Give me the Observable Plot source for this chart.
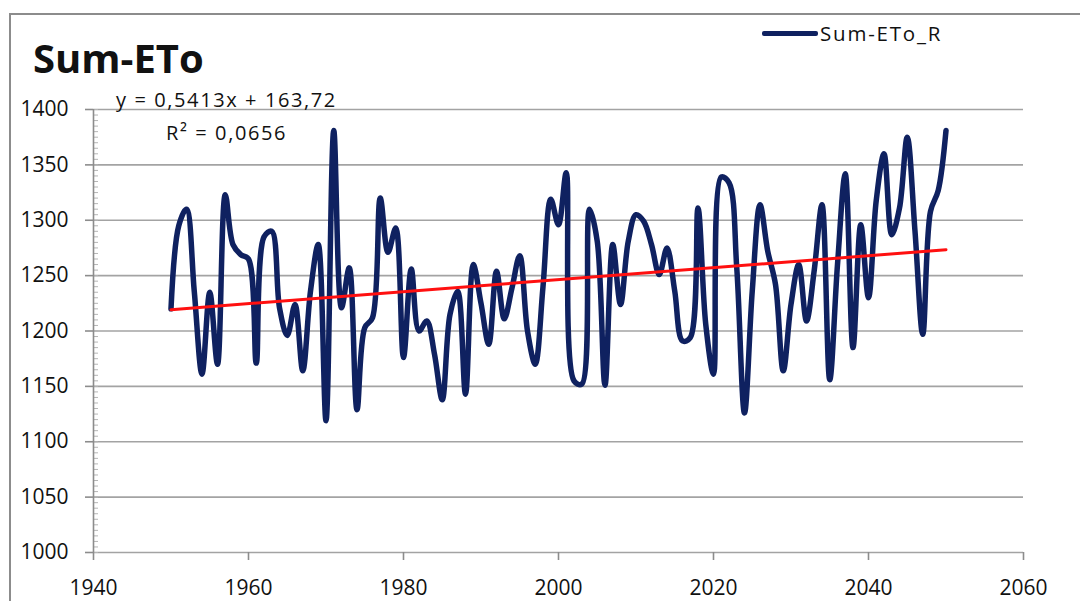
<!DOCTYPE html>
<html>
<head>
<meta charset="utf-8">
<script src="https://cdn.jsdelivr.net/npm/d3@7"></script>
<script src="https://cdn.jsdelivr.net/npm/@observablehq/plot@0.6"></script>
<style>
  html, body { margin: 0; padding: 0; background: #fff; }
  #wrap { position: relative; width: 1080px; height: 601px; overflow: hidden; font-family: "Open Sans", sans-serif; }
  #frame { position: absolute; left: 9px; top: 13px; width: 1200px; height: 700px; border-left: 2px solid #8c8c8c; border-top: 2px solid #8c8c8c; }
  .ov { position: absolute; white-space: nowrap; color: #111; }
  #title { left: 33px; top: 30px; font-size: 40px; font-weight: 700; }
  #eq1 { left: 116px; top: 86px; font-size: 20px; letter-spacing: 1.6px; }
  #eq2 { left: 166px; top: 119px; font-size: 20px; letter-spacing: 1.6px; }
  #legline { position: absolute; left: 762px; top: 31px; width: 56px; height: 5px; background: #0f2160; border-radius: 2px; }
  #legtxt { left: 820px; top: 19px; font-size: 20.5px; letter-spacing: 1.8px; }
  svg { position: absolute; left: 0; top: 0; }
</style>
</head>
<body>
<div id="wrap">
  <div id="frame"></div>
  <div id="chart"></div>
  <div class="ov" id="title">Sum-ETo</div>
  <div class="ov" id="eq1">y = 0,5413x + 163,72</div>
  <div class="ov" id="eq2">R² = 0,0656</div>
  <div id="legline"></div>
  <div class="ov" id="legtxt">Sum-ETo_R</div>
</div>
<script>
// ---- data ----
const firstYear = 1950;
const sumETo = [
  1220, 1295, 1310, 1236, 1161, 1235, 1170, 1323, 1278, 1269,
  1265, 1171, 1285, 1290, 1221, 1196, 1224, 1164, 1236, 1278,
  1119, 1381, 1221, 1257, 1129, 1203, 1212, 1320, 1271, 1293,
  1176, 1256, 1200, 1209, 1179, 1138, 1215, 1236, 1143, 1260,
  1225, 1188, 1254, 1211, 1239, 1268, 1200, 1170, 1240, 1319,
  1296, 1343, 1155, 1152, 1310, 1281, 1151, 1278, 1224, 1281,
  1305, 1299, 1278, 1251, 1275, 1236, 1191, 1194, 1311, 1206,
  1161, 1339, 1334, 1257, 1126, 1236, 1314, 1272, 1242, 1164,
  1224, 1260, 1209, 1255, 1314, 1156, 1260, 1342, 1185, 1296,
  1230, 1318, 1360, 1287, 1311, 1375, 1290, 1197, 1308, 1327,
  1381
];
const trendSlope = 0.5413;
const trendIntercept = 163.72;
const yTicks = [1000, 1050, 1100, 1150, 1200, 1250, 1300, 1350, 1400];
const xTicks = [1940, 1960, 1980, 2000, 2020, 2040, 2060];
const yMinorTicks = d3.range(1000, 1401, 5);

const series = sumETo.map((v, i) => ({year: firstYear + i, value: v}));
const trendYears = [series[0].year, series[series.length - 1].year];
const trend = trendYears.map(yr => ({year: yr, value: trendSlope * yr + trendIntercept}));

const plotW = 1080, mL = 93, mR = 57;
const chart = Plot.plot({
  width: plotW,
  height: 601,
  marginLeft: mL,
  marginRight: mR,
  marginTop: 109,
  marginBottom: 49,
  style: {fontFamily: "'Open Sans', sans-serif", color: "#111", background: "transparent", overflow: "visible"},
  x: {domain: [1940, 2060]},
  y: {domain: [1000, 1400]},
  marks: [
    Plot.ruleY(yTicks, {stroke: "#a3a3a3", strokeWidth: 1.6}),
    Plot.tickY(yMinorTicks, {stroke: "#b5b5b5", strokeWidth: 1, insetRight: plotW - mL - mR - 5}),
    Plot.ruleX([1940], {stroke: "#8c8c8c", strokeWidth: 1.6}),
    Plot.axisY({ticks: yTicks, tickSize: 8, tickPadding: 17, tickFormat: d => String(d), fontSize: 21, label: null, stroke: "#8c8c8c", strokeWidth: 1.6}),
    Plot.axisX({ticks: xTicks, tickSize: 8, tickPadding: 20, tickFormat: d => String(d), fontSize: 21, label: null, stroke: "#8c8c8c", strokeWidth: 1.6}),
    Plot.line(series, {x: "year", y: "value", stroke: "#0f2160", strokeWidth: 5.5, curve: "catmull-rom"}),
    Plot.line(trend, {x: "year", y: "value", stroke: "#ff1010", strokeWidth: 3})
  ]
});
document.getElementById("chart").appendChild(chart);
</script>
</body>
</html>
